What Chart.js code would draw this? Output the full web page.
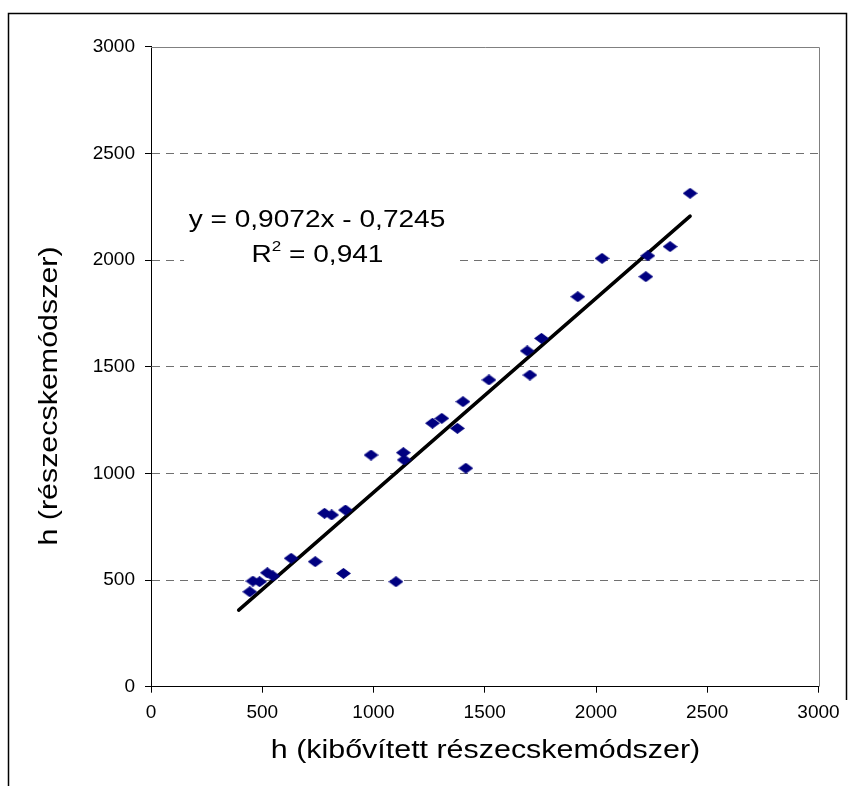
<!DOCTYPE html>
<html>
<head>
<meta charset="utf-8">
<script src="https://cdn.jsdelivr.net/npm/chart.js@4.4.1/dist/chart.umd.min.js"></script>
<style>
html,body{margin:0;padding:0;background:#fff;}
#wrap{width:854px;height:786px;position:relative;}
</style>
</head>
<body>
<div id="wrap"><canvas id="c" width="854" height="786"></canvas></div>
<script>
// Data
const xValues = [444, 458, 488, 523, 548, 630, 738, 780, 812, 874, 865, 1101, 989, 1134, 1138, 1265, 1307, 1377, 1402, 1415, 1519, 1691, 1703, 1755, 1918, 2027, 2233, 2224, 2333, 2423];
const yValues = [445, 495, 492, 534, 519, 602, 586, 813, 805, 828, 531, 492, 1086, 1097, 1063, 1235, 1258, 1211, 1336, 1024, 1438, 1574, 1461, 1633, 1828, 2008, 2020, 1922, 2063, 2313];
const trendX = [394, 2423];
const trendY = [359, 2206];
const tickValues = [0, 500, 1000, 1500, 2000, 2500, 3000];
const xTitle = 'h (kibővített részecskemódszer)';
const yTitle = 'h (részecskemódszer)';
const eqLine1 = 'y = 0,9072x - 0,7245';
const eqLine2a = 'R';
const eqLine2sup = '2';
const eqLine2b = ' = 0,941';

const points = xValues.map((x, i) => ({x: x, y: yValues[i]}));
const trend = trendX.map((x, i) => ({x: x, y: trendY[i]}));

// diamond marker (slightly wider than tall, as in the reference)
const marker = document.createElement('canvas');
marker.width = 15; marker.height = 11;
(function(){
  const m = marker.getContext('2d');
  m.fillStyle = '#000080';
  m.beginPath();
  m.moveTo(7.5, 0); m.lineTo(15, 5.5); m.lineTo(7.5, 11); m.lineTo(0, 5.5);
  m.closePath(); m.fill();
})();

const FONT = '"Liberation Sans", Arial, sans-serif';

function stretchedText(ctx, text, x, y, sx, font, align, baseline, rot) {
  ctx.save();
  ctx.translate(x, y);
  if (rot) ctx.rotate(rot);
  ctx.scale(sx, 1);
  ctx.font = font;
  ctx.textAlign = align;
  ctx.textBaseline = baseline;
  ctx.fillStyle = '#000';
  ctx.fillText(text, 0, 0);
  ctx.restore();
}

const decor = {
  id: 'decor',
  beforeDraw(chart) {
    const ctx = chart.ctx;
    ctx.save();
    ctx.fillStyle = '#fff';
    ctx.fillRect(0, 0, chart.width, chart.height);
    ctx.strokeStyle = '#000';
    ctx.lineWidth = 1.5;
    ctx.beginPath();
    ctx.moveTo(8.5, 786);
    ctx.lineTo(8.5, 13.5);
    ctx.lineTo(846.5, 13.5);
    ctx.lineTo(846.5, 700);
    ctx.stroke();
    ctx.restore();
  },
  beforeDatasetsDraw(chart) {
    const ctx = chart.ctx;
    const a = chart.chartArea;
    ctx.save();
    ctx.strokeStyle = '#808080';
    ctx.lineWidth = 1;
    ctx.beginPath();
    ctx.moveTo(a.left, Math.round(a.top) + 0.5);
    ctx.lineTo(Math.round(a.right) + 0.5, Math.round(a.top) + 0.5);
    ctx.lineTo(Math.round(a.right) + 0.5, a.bottom);
    ctx.stroke();
    ctx.restore();
  },
  afterDatasetsDraw(chart) {
    const ctx = chart.ctx;
    ctx.save();
    ctx.fillStyle = '#fff';
    ctx.fillRect(184, 197, 273, 78);
    ctx.restore();
    const sx = 1.22;
    stretchedText(ctx, eqLine1, 317, 227, sx, '23px ' + FONT, 'center', 'alphabetic');
    // second line with superscript
    ctx.save();
    ctx.font = '23px ' + FONT;
    const wR = ctx.measureText(eqLine2a).width;
    const wB = ctx.measureText(eqLine2b).width;
    ctx.font = '14px ' + FONT;
    const wS = ctx.measureText(eqLine2sup).width;
    ctx.restore();
    const total = (wR + wS + wB) * sx;
    let x0 = 317.5 - total / 2;
    stretchedText(ctx, eqLine2a, x0, 261.7, sx, '23px ' + FONT, 'left', 'alphabetic');
    x0 += wR * sx;
    stretchedText(ctx, eqLine2sup, x0, 251, sx, '14px ' + FONT, 'left', 'alphabetic');
    x0 += wS * sx;
    stretchedText(ctx, eqLine2b, x0, 261.7, sx, '23px ' + FONT, 'left', 'alphabetic');
  },
  afterDraw(chart) {
    const ctx = chart.ctx;
    stretchedText(ctx, xTitle, 485.5, 758, 1.17, '26px ' + FONT, 'center', 'alphabetic');
    stretchedText(ctx, yTitle, 57, 396, 1.17, '26px ' + FONT, 'center', 'alphabetic', -Math.PI / 2);
  }
};

new Chart(document.getElementById('c'), {
  type: 'scatter',
  data: {
    datasets: [
      {
        label: 'data',
        data: points,
        pointStyle: marker,
        pointRadius: 6,
        pointHoverRadius: 6,
        backgroundColor: '#000080',
        borderColor: '#000080',
        order: 1
      },
      {
        label: 'trend',
        type: 'line',
        data: trend,
        borderColor: '#000',
        borderWidth: 3.5,
        pointRadius: 0,
        fill: false,
        borderCapStyle: 'round',
        order: 2
      }
    ]
  },
  options: {
    responsive: false,
    animation: false,
    events: [],
    devicePixelRatio: 1,
    layout: { padding: { top: 46.7, right: 35.5, left: 0, bottom: 0 } },
    plugins: { legend: { display: false }, tooltip: { enabled: false } },
    scales: {
      x: {
        type: 'linear',
        min: 0, max: 3000,
        afterBuildTicks(scale) { scale.ticks = tickValues.map(v => ({value: v})); },
        afterFit(scale) { scale.height = 786 - 686.7; },
        ticks: {
          color: '#000',
          font: { family: FONT, size: 19 },
          padding: 9,
          maxRotation: 0,
          autoSkip: false,
          callback: v => String(v)
        },
        grid: {
          drawOnChartArea: false,
          drawTicks: true,
          tickLength: 6,
          tickColor: '#000',
          tickWidth: 1
        },
        border: { display: true, color: '#000', width: 1 }
      },
      y: {
        type: 'linear',
        min: 0, max: 3000,
        afterBuildTicks(scale) { scale.ticks = tickValues.map(v => ({value: v})); },
        afterFit(scale) { scale.width = 151; },
        ticks: {
          color: '#000',
          font: { family: FONT, size: 19 },
          padding: 10,
          autoSkip: false,
          callback: v => String(v)
        },
        grid: {
          drawOnChartArea: true,
          drawTicks: true,
          tickLength: 6,
          tickColor: '#000',
          tickWidth: 1,
          tickBorderDash: [],
          color: ctx => (ctx.tick && (ctx.tick.value === 0 || ctx.tick.value === 3000)) ? 'rgba(0,0,0,0)' : '#707070',
          lineWidth: 1
        },
        border: { display: true, color: '#000', width: 1, dash: [8, 6] }
      }
    }
  },
  plugins: [decor]
});
</script>
</body>
</html>
